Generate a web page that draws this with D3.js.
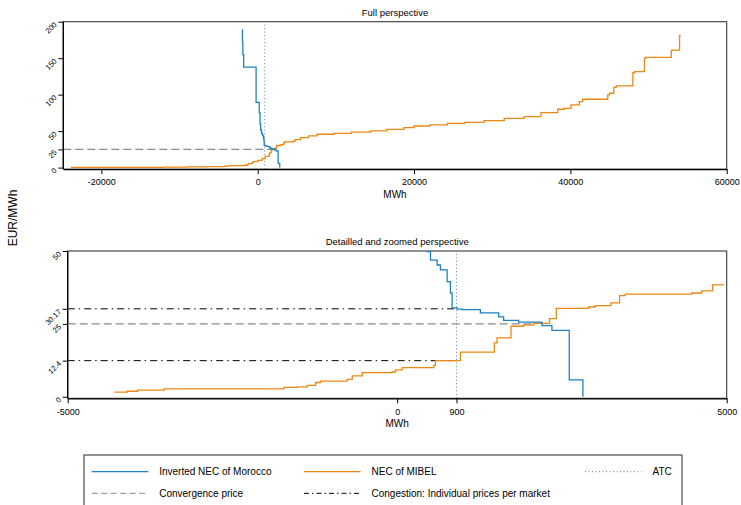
<!DOCTYPE html>
<html>
<head>
<meta charset="utf-8">
<script src="https://cdn.jsdelivr.net/npm/d3@7"></script>
<style>
	body{margin:0;background:#fff;}
	svg{display:block;font-family:'Liberation Sans',Arial,sans-serif;}
</style>
</head>
<body>
<svg id="chart" width="741" height="505"></svg>
<script>
	// step points: price holds from this MWh until the next one
	var moroccoMWh = [-2000,-1950,-1900,-1795,-205,200,300,380,455,505,606,656,758,808,833,909,985,1262,1540,1615,1843,2197,2348,2611,2818];
	var moroccoPrice = [188.6,172,155,137.8,89.5,75,60,52,49.8,46.9,45.2,43.5,39.5,35.6,30.5,30.1,29.9,28.8,27.4,26.2,25.6,24.4,22.8,5.8,0];

	var mibelMWh = [-23885,-18000,-12000,-9050,-6500,-4294,-4100,-3940,-3536,-1718,-1515,-1364,-1238,-1162,-758,-682,-530,-76,-26,76,555,580,959,1474,1515,1727,1918,2070,2312,2414,2904,3005,3242,3374,3459,4470,4621,4788,4960,
		5470,6500,7600,9740,12000,14450,16500,18720,20000,22000,24280,26500,28970,31540,34100,36240,38380,39230,40090,41150,41580,44790,45000,45560,45860,48000,48200,49480,49620,52910,53000,53970,54020];
	var mibelPrice = [0.2,0.4,0.7,1.1,1.3,1.6,1.9,2.3,2.7,3.2,3.4,3.9,4.9,5.4,6.0,7.2,8.3,8.5,9.2,10.0,10.8,12.4,15.3,18.5,20.2,24.2,24.6,25.2,26.8,30.3,30.8,31.3,32.2,34.7,35.2,35.6,36.3,38.4,38.4,
		41.0,43.5,45.7,47.0,48.5,50.3,52.5,54.8,57.0,58.5,60.5,62.0,64.5,67.6,70.0,75.3,80.0,81.3,85.9,90.4,93.7,99.6,101.9,110,112,130,131.5,149.8,151,160.3,161,180.4,182,188.6];

	var atcMWh = 900;
	var convergencePrice = 25;
	var convergenceMWh = 2070;
	var congestionPrices = [30.17, 12.4];

	var fullXTicks = [-20000,0,20000,40000,60000];
	var fullYTicks = [0,25,50,100,150,200];
	var zoomXTicks = [-5000,0,900,5000];
	var zoomYTicks = [0,12.4,25,30.17,50];

	var legendLabels = ['Inverted NEC of Morocco','NEC of MIBEL','ATC','Convergence price','Congestion: Individual prices per market'];

	var blue = '#1b82c1',
		orange = '#eb8712',
		atcColor = '#5d7ea8',
		greyDash = '#8a8a8a';

	var morocco = moroccoMWh.map(function(m,i){return [m, moroccoPrice[i]];});
	var mibel = mibelMWh.map(function(m,i){return [m, mibelPrice[i]];});

	var panels = [
		{id:'full', title:'Full perspective', xDomain:[-24870,60000], yDomain:[0,200],
			left:63.3, right:726.7, top:21.7, bottom:167.6, xTicks:fullXTicks, yTicks:fullYTicks,
			congestion:false, mibelFrom:-Infinity, mibelTo:Infinity},
		{id:'zoom', title:'Detailled and zoomed perspective', xDomain:[-5000,5000], yDomain:[0,50],
			left:67.7, right:726.7, top:251, bottom:396.8, xTicks:zoomXTicks, yTicks:zoomYTicks,
			congestion:true, mibelFrom:-4500, mibelTo:5000}
	];
	var axisGap = 1.5;

	var svg = d3.select('#chart');

	function drawPanel(p){
		var g = svg.append('g').attr('id',p.id);
		var x = d3.scaleLinear().domain(p.xDomain).range([p.left,p.right]);
		var y = d3.scaleLinear().domain(p.yDomain).range([p.bottom,p.top]);
		var axisY = p.bottom+axisGap;

		g.append('clipPath').attr('id','clip-'+p.id)
			.append('rect')
			.attr('x',p.left).attr('y',p.top)
			.attr('width',p.right-p.left).attr('height',axisY-p.top);

		g.append('rect')
			.attr('x',p.left).attr('y',p.top)
			.attr('width',p.right-p.left).attr('height',axisY-p.top)
			.style('fill','none').style('stroke','#3a3a3a').style('stroke-width',1.1);

		var plot = g.append('g').attr('clip-path','url(#clip-'+p.id+')');

		// convergence price
		plot.append('line')
			.attr('x1',x(p.xDomain[0])).attr('x2',x(convergenceMWh))
			.attr('y1',y(convergencePrice)).attr('y2',y(convergencePrice))
			.style('stroke',greyDash).style('stroke-width',1.2).style('stroke-dasharray','8,4');

		if(p.congestion){
			plot.selectAll('line.congestion')
				.data(congestionPrices)
				.enter()
				.append('line')
				.attr('class','congestion')
				.attr('x1',x(p.xDomain[0])).attr('x2',x(atcMWh))
				.attr('y1',(d)=>y(d)).attr('y2',(d)=>y(d))
				.style('stroke','#000').style('stroke-width',1).style('stroke-dasharray','7,4,1.5,4');
		}

		// ATC
		plot.append('line')
			.attr('x1',x(atcMWh)).attr('x2',x(atcMWh))
			.attr('y1',axisY).attr('y2',y(p.yDomain[1]))
			.style('stroke',atcColor).style('stroke-width',1).style('stroke-dasharray','1,2.5');

		var line = d3.line()
			.x((d)=>x(d[0]))
			.y((d)=>y(d[1]))
			.curve(d3.curveStepAfter);

		plot.append('path')
			.datum(mibel.filter((d)=>d[0]>=p.mibelFrom && d[0]<=p.mibelTo))
			.attr('d',line)
			.style('fill','none').style('stroke',orange).style('stroke-width',1.3);

		plot.append('path')
			.datum(morocco)
			.attr('d',line)
			.style('fill','none').style('stroke',blue).style('stroke-width',1.3);

		// axes
		var xAxis = g.append('g')
			.attr('transform','translate(0,'+axisY+')')
			.call(d3.axisBottom(x).tickValues(p.xTicks).tickSize(5).tickSizeOuter(0).tickPadding(5).tickFormat((d)=>String(d)));
		xAxis.attr('font-family',null);
		xAxis.selectAll('text').style('font-size','9px').style('fill','#000');

		var yAxis = g.append('g')
			.attr('transform','translate('+p.left+',0)')
			.call(d3.axisLeft(y).tickValues(p.yTicks).tickSize(5).tickSizeOuter(0).tickFormat((d)=>String(d)));
		yAxis.attr('font-family',null);
		yAxis.select('.domain').attr('d','M0,'+axisY+'V'+p.top);
		yAxis.selectAll('text')
			.attr('x',null).attr('dy',null)
			.attr('transform','translate(-6,3) rotate(-45)')
			.style('text-anchor','end')
			.style('font-size','7.5px').style('fill','#000');

		g.selectAll('.domain').style('stroke','#000').style('stroke-width',1.3);
		g.selectAll('.tick line').style('stroke','#000').style('stroke-width',1);

		g.append('text')
			.text(p.title)
			.attr('x',(p.left+p.right)/2).attr('y',p.top-6)
			.style('text-anchor','middle').style('font-size','9.5px');

		g.append('text')
			.text('MWh')
			.attr('x',(p.left+p.right)/2).attr('y',axisY+28.5)
			.style('text-anchor','middle').style('font-size','10px');
	}

	panels.forEach(drawPanel);

	svg.append('text')
		.text('EUR/MWh')
		.attr('transform','translate(17,218) rotate(-90)')
		.style('text-anchor','middle').style('font-size','12px');

	// legend
	var legend = svg.append('g').attr('id','legend');
	legend.append('rect')
		.attr('x',84).attr('y',455).attr('width',598).attr('height',70)
		.style('fill','#fff').style('stroke','#3a3a3a').style('stroke-width',1.1);

	var legendStyles = [
		{color:blue, dash:null, width:1.3},
		{color:orange, dash:null, width:1.3},
		{color:atcColor, dash:'1,2.5', width:1},
		{color:greyDash, dash:'6,3.5', width:1},
		{color:'#000', dash:'5,3,1.5,3', width:1}
	];
	var colX = [91.7, 304, 585],
		rowY = [471.7, 493.3],
		sampleLen = 56.6;

	legend.selectAll('g.item')
		.data(legendLabels)
		.enter()
		.append('g')
		.attr('class','item')
		.each(function(d,i){
			var cx = colX[i<3 ? i : i-3],
				cy = rowY[i<3 ? 0 : 1],
				s = legendStyles[i];
			d3.select(this).append('line')
				.attr('x1',cx).attr('x2',cx+sampleLen)
				.attr('y1',cy).attr('y2',cy)
				.style('stroke',s.color).style('stroke-width',s.width)
				.style('stroke-dasharray',s.dash);
			d3.select(this).append('text')
				.text(d)
				.attr('x',cx+67.5).attr('y',cy+3.6)
				.style('font-size','10px');
		});
</script>
</body>
</html>
